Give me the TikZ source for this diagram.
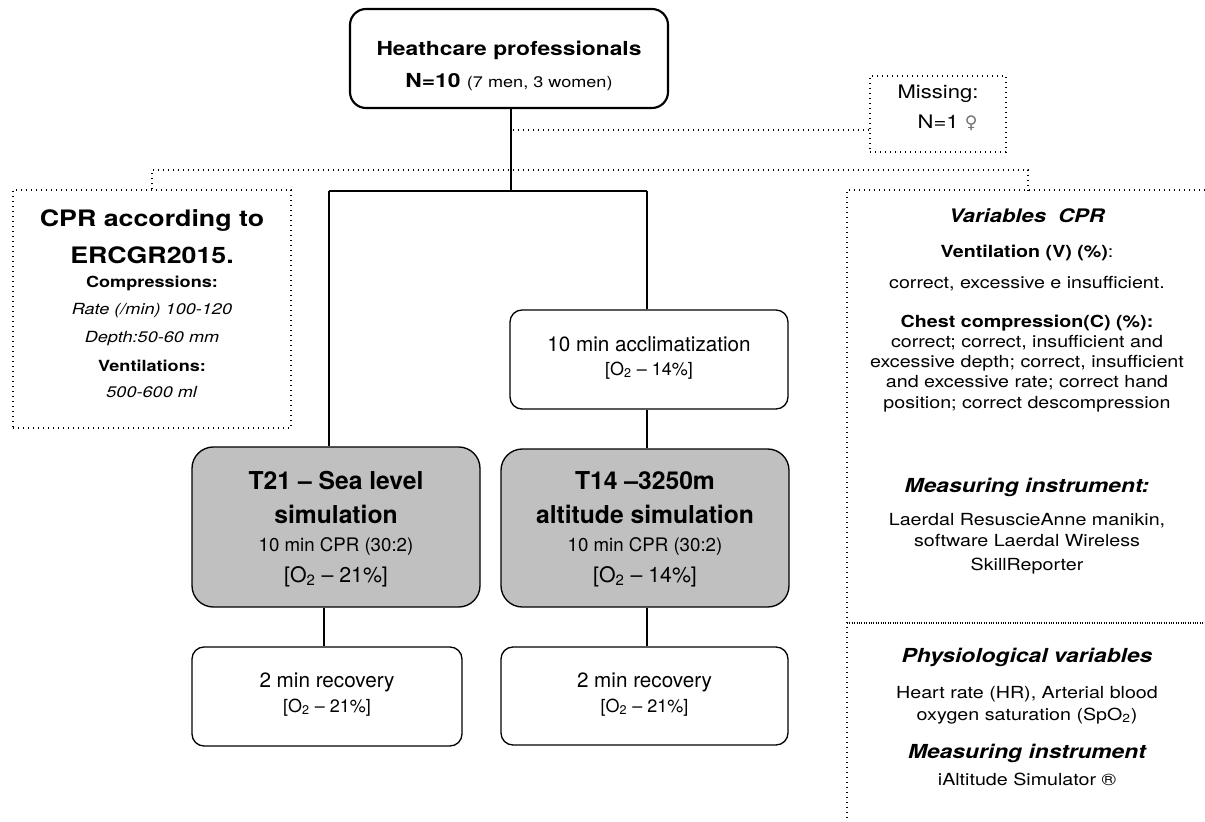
\documentclass[tikz,border=0pt]{standalone}
\usepackage{fontspec}
\setmainfont{TeX Gyre Heros}
\newfontfamily\widefont{TeX Gyre Heros}[FakeStretch=1.18]
\newfontfamily\symfont{DejaVu Sans}
\newcommand{\fsz}[2]{\fontsize{#1}{#2}\selectfont}
\newcommand{\headfont}{\fsz{18.5}{18}\bfseries}
\newcommand{\panelhead}{\fsz{14.5}{15}\bfseries\itshape}
\definecolor{boxgray}{RGB}{192,192,192}

\tikzset{every picture/.style={line width=0.75pt}}
\tikzset{
  flowbox/.style={draw, rounded corners=9pt, line width=1pt, align=center, inner sep=0pt, text depth=0pt},
  graybox/.style={flowbox, fill=boxgray, rounded corners=16pt},
  dotline/.style={line width=1pt, dash pattern=on 0.9pt off 2.85pt},
  fineline/.style={line width=0.8pt, dash pattern=on 0.6pt off 1.2pt},
  textblock/.style={inner sep=0pt, align=center, text height=0pt, text depth=0pt},
}

\begin{document}
\begin{tikzpicture}[x=0.75pt,y=0.75pt,yscale=-1,xscale=1]
\useasboundingbox (0,0) rectangle (1205,821);

%Rounded Rect: participants
\draw (509,58.5) node [flowbox, line width=1.6pt, rounded corners=12pt, minimum width=238.5pt, minimum height=74.25pt, text height=42.75pt, font=\widefont\fsz{14.5}{18}] (top) {\textbf{Heathcare professionals}\\[6pt]\textbf{N=10}\ {\fsz{11.5}{14}(7 men, 3 women)}};
%Rounded Rect: acclimatization
\draw (649,359.5) node [flowbox, minimum width=208.5pt, minimum height=74.25pt, text height=23.25pt, font=\fsz{15.5}{18}] (accl) {10 min acclimatization\\{\fsz{13.5}{16}[O\textsubscript{2} – 14\%]}};
%Rounded Rect: sea level
\draw (336,527) node [graybox, minimum width=216pt, minimum height=120pt, text height=82.5pt, font=\fsz{14}{18}] (t21) {{\headfont T21 – Sea level}\\[7.5pt]{\headfont simulation}\\[3pt]10 min CPR (30:2)\\[5.25pt]{\fsz{16}{18}[O\textsubscript{2} – 21\%]}};
%Rounded Rect: altitude
\draw (645,528) node [graybox, minimum width=216pt, minimum height=118.5pt, text height=81pt, font=\fsz{14}{18}] (t14) {{\headfont T14 –3250m}\\[7.5pt]{\headfont altitude simulation}\\[3pt]10 min CPR (30:2)\\[5.25pt]{\fsz{16}{18}[O\textsubscript{2} – 14\%]}};
%Rounded Rect: recovery
\draw (327,696.5) node [flowbox, minimum width=202.5pt, minimum height=74.25pt, text height=23.25pt, font=\fsz{15.5}{18}] (rec1) {2 min recovery\\[0.75pt]{\fsz{13.5}{16}[O\textsubscript{2} – 21\%]}};
%Rounded Rect: recovery
\draw (644.5,696) node [flowbox, minimum width=215.25pt, minimum height=73.5pt, text height=24pt, font=\fsz{15.5}{18}] (rec2) {2 min recovery\\[0.75pt]{\fsz{13.5}{16}[O\textsubscript{2} – 21\%]}};

%Dotted Rect: missing
\draw (938,114) node [dotline, draw, align=left, inner sep=0pt, minimum width=102pt, minimum height=57pt, text height=21pt, text depth=0pt, font=\widefont\fsz{14}{17}] (miss) {Missing:\\[5.5pt]\hspace*{15pt}N=1 {\symfont\fsz{13}{17}\color{black!55}♀}};
%Dotted Rect: guidelines
\draw (152,309) node [dotline, draw, align=center, inner sep=0pt, minimum width=208.5pt, minimum height=178.5pt, text height=132pt, text depth=0pt, font=\widefont\fsz{11.5}{14}] (cpr) {{\fsz{17}{14}\bfseries CPR according to}\\[10pt]{\fsz{17}{14}\bfseries ERCGR2015.}\\[4pt]\textbf{Compressions:}\\[6.25pt]\textit{Rate (/min) 100-120}\\[7pt]\textit{Depth:50-60 mm}\\[7.75pt]\textbf{Ventilations:}\\[5.5pt]\textit{500-600 ml}};

%Straight Lines
\coordinate (split) at (511,191);
\coordinate (lbr) at (329,191);
\coordinate (rbr) at (647,191);
\draw [line width=1.3pt] (top.south -| split) -- (split);
\draw [line width=1.3pt] (lbr) -- (rbr);
\draw [line width=1.3pt] (lbr) -- (lbr |- t21.north);
\draw [line width=1.3pt] (rbr) -- (rbr |- accl.north);
\draw [line width=0.9pt] (accl.south -| rbr) -- (rbr |- t14.north);
\draw [line width=0.9pt] (rec1.north -| 324,0) -- (324,0 |- t21.south);
\draw [line width=0.9pt] (t14.south -| rbr) -- (rbr |- rec2.north);

%Dotted Lines
\coordinate (mlink) at (miss.west |- 0,130);
\coordinate (lbar) at (152,170);
\coordinate (rbar) at (1028,170);
\coordinate (pnw) at (847,190);
\draw [dotline] (513,0 |- mlink) -- (mlink);
\draw [dotline] (cpr.north) -- (lbar) -- (rbar) -- (rbar |- pnw);
\draw [dotline] (1205,190) -- (pnw) -- (847,821);
\draw [fineline] (847,623) -- (1205,623);

% Text Node
\draw (1027,408) node [textblock, font=\widefont\fsz{12.5}{15}] (vcpr) {{\fsz{14}{15}\bfseries\itshape Variables\ \ CPR}\\[11.25pt]\textbf{Ventilation (V) (\%)}:\\[8.25pt]correct, excessive e insufficient.\\[14.25pt]\textbf{Chest compression(C) (\%):}\\correct; correct, insufficient and\\excessive depth; correct, insufficient\\and excessive rate; correct hand\\[0.75pt]position; correct descompression};
% Text Node
\draw (1027,570) node [textblock, font=\widefont\fsz{12.5}{15}] (cprtool) {{\panelhead Measuring instrument:}\\[9.75pt]Laerdal ResuscieAnne manikin,\\[0.75pt]software Laerdal Wireless\\[3pt]SkillReporter};
% Text Node
\draw (1027,720) node [textblock, font=\widefont\fsz{12.5}{15}] (phys) {{\panelhead Physiological variables}\\[12pt]Heart rate (HR), Arterial blood\\[1.5pt]oxygen saturation (SpO\textsubscript{2})};
% Text Node
\draw (1027,785) node [textblock, font=\widefont\fsz{12.5}{15}] (phystool) {{\panelhead Measuring instrument}\\[5.25pt]iAltitude Simulator ®};

\end{tikzpicture}
\end{document}
